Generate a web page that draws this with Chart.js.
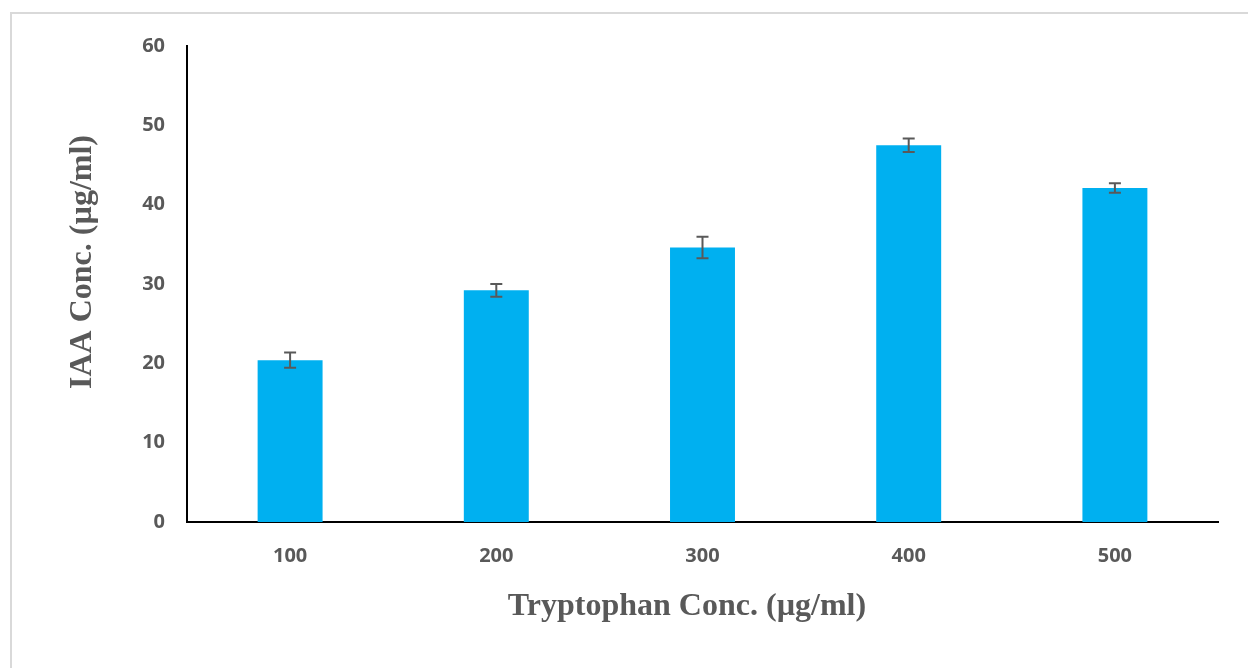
<!DOCTYPE html>
<html lang="en">
<head>
    <script src="https://cdn.jsdelivr.net/npm/chart.js@4.4.0/dist/chart.umd.min.js"></script>
    <meta charset="UTF-8">
    <title>IAA vs Tryptophan</title>
    <style>
        body {
            margin: 0;
            padding: 0;
            background-color: #fff;
            overflow: hidden;
        }

        .frame {
            position: absolute;
            left: 10px;
            top: 12px;
            width: 1300px;
            height: 700px;
            border-left: 2px solid #d9d9d9;
            border-top: 2px solid #d9d9d9;
        }

        .wrap {
            position: absolute;
            left: 0;
            top: 0;
            width: 1248px;
            height: 668px;
        }
    </style>
</head>
<body>
    <div class="frame"></div>
    <div class="wrap">
        <canvas id="iaaChart" width="1248" height="668"></canvas>
    </div>
    <script>
        // Datos
        const categories = ['100', '200', '300', '400', '500'];
        const iaaValues = [20.4, 29.2, 34.6, 47.5, 42.1];
        const iaaErrors = [0.95, 0.8, 1.35, 0.85, 0.6];
        const yTicks = [0, 10, 20, 30, 40, 50, 60];

        const xTitle = 'Tryptophan Conc. (µg/ml)';
        const yTitle = 'IAA Conc. (µg/ml)';

        const grey = '#595959';

        // Barras de error y títulos de ejes
        const extras = {
            id: 'extras',
            afterDatasetsDraw(chart) {
                const ctx = chart.ctx;
                const meta = chart.getDatasetMeta(0);
                const y = chart.scales.y;
                ctx.save();
                ctx.strokeStyle = grey;
                ctx.lineWidth = 2;
                meta.data.forEach((bar, i) => {
                    const v = iaaValues[i];
                    const e = iaaErrors[i];
                    const top = y.getPixelForValue(v + e);
                    const bot = y.getPixelForValue(v - e);
                    ctx.beginPath();
                    ctx.moveTo(bar.x, top);
                    ctx.lineTo(bar.x, bot);
                    ctx.moveTo(bar.x - 6, top);
                    ctx.lineTo(bar.x + 6, top);
                    ctx.moveTo(bar.x - 6, bot);
                    ctx.lineTo(bar.x + 6, bot);
                    ctx.stroke();
                });
                ctx.restore();
            },
            afterDraw(chart) {
                const ctx = chart.ctx;
                ctx.save();
                ctx.fillStyle = grey;
                ctx.font = 'bold 32px "Liberation Serif", serif';
                ctx.textAlign = 'center';
                ctx.textBaseline = 'middle';
                ctx.fillText(xTitle, 687, 607);
                ctx.translate(83, 262);
                ctx.rotate(-Math.PI / 2);
                ctx.fillText(yTitle, 0, 0);
                ctx.restore();
            }
        };

        const ctx = document.getElementById('iaaChart').getContext('2d');

        new Chart(ctx, {
            type: 'bar',
            data: {
                labels: categories,
                datasets: [{
                    data: iaaValues,
                    backgroundColor: '#00b0f0',
                    barPercentage: 0.315,
                    categoryPercentage: 1
                }]
            },
            options: {
                responsive: false,
                animation: false,
                layout: {
                    padding: { left: 0, right: 30, top: 46, bottom: 0 }
                },
                plugins: {
                    legend: { display: false },
                    tooltip: { enabled: false }
                },
                scales: {
                    x: {
                        grid: { display: false, drawTicks: false },
                        border: { color: '#000', width: 2 },
                        ticks: {
                            color: grey,
                            padding: 22,
                            font: { family: '"Open Sans", sans-serif', size: 20, weight: 'bold' }
                        },
                        afterFit(scale) { scale.height = 146; }
                    },
                    y: {
                        min: 0,
                        max: 60,
                        afterBuildTicks(scale) {
                            scale.ticks = yTicks.map(v => ({ value: v }));
                        },
                        grid: { display: false, drawTicks: false },
                        border: { color: '#000', width: 2 },
                        ticks: {
                            color: grey,
                            padding: 22,
                            font: { family: '"Open Sans", sans-serif', size: 20, weight: 'bold' }
                        },
                        afterFit(scale) { scale.width = 187; }
                    }
                }
            },
            plugins: [extras]
        });
    </script>
</body>
</html>
